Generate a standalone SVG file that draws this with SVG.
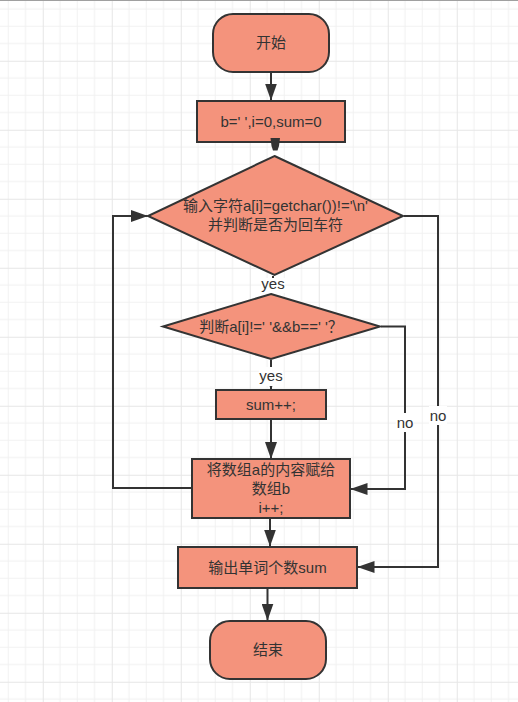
<svg xmlns="http://www.w3.org/2000/svg" width="518" height="702" viewBox="0 0 518 702">
<defs>
<pattern id="grid" patternUnits="userSpaceOnUse" x="42.75" y="60.75" width="69" height="69">
<rect width="69" height="69" fill="#ffffff"/>
<path d="M17.25,0V69M34.5,0V69M51.75,0V69M0,17.25H69M0,34.5H69M0,51.75H69" stroke="#f1f1f1" stroke-width="1" fill="none"/>
<path d="M0.5,0V69M0,0.5H69" stroke="#e6e6e6" stroke-width="1" fill="none"/>
</pattern>
<marker id="arr" viewBox="0 0 17 12" refX="16.5" refY="6" markerWidth="17" markerHeight="12" orient="auto" markerUnits="userSpaceOnUse">
<path d="M0,0 L17,6 L0,12 z" fill="#333333"/>
</marker>
</defs>
<style>
.shape{fill:#F4937C;stroke:#333333;stroke-width:2}
.conn{fill:none;stroke:#333333;stroke-width:2}
.t{font-family:"Liberation Sans","Noto Sans CJK SC",sans-serif;font-size:15px;fill:#333333;text-anchor:middle}
.lbg{fill:#ffffff}
</style>
<rect x="0" y="0" width="518" height="702" fill="url(#grid)"/>
<line x1="0" y1="0.5" x2="518" y2="0.5" stroke="#a0a0a0" stroke-width="1"/>

<g id="start">
<rect class="shape" x="213" y="14" width="116" height="58" rx="20" ry="20"/>
<text class="t" x="271" y="48">开始</text>
</g>
<g id="init">
<rect class="shape" x="197" y="101" width="148" height="41"/>
<text class="t" x="271" y="126.5">b=' ',i=0,sum=0</text>
</g>
<g id="input">
<polygon class="shape" points="274.5,156 403,216 274.5,275 148,216"/>
<text class="t" x="275.5" y="211">输入字符a[i]=getchar())!='\n'</text>
<text class="t" x="275.5" y="229.5">并判断是否为回车符</text>
</g>
<g id="check">
<polygon class="shape" points="271,294 380,326.5 271,359 163,326.5"/>
<text class="t" x="271" y="331.5">判断a[i]!=' '&amp;&amp;b==' '？</text>
</g>
<g id="count">
<rect class="shape" x="216" y="390" width="110" height="29"/>
<text class="t" x="271" y="409.5">sum++;</text>
</g>
<g id="copy">
<rect class="shape" x="192" y="459" width="158" height="59"/>
<text class="t" x="271" y="475">将数组a的内容赋给</text>
<text class="t" x="271" y="494">数组b</text>
<text class="t" x="271" y="513">i++;</text>
</g>
<g id="output">
<rect class="shape" x="178" y="547" width="179" height="41"/>
<text class="t" x="267.5" y="573">输出单词个数sum</text>
</g>
<g id="end">
<rect class="shape" x="210" y="621" width="116" height="58" rx="20" ry="20"/>
<text class="t" x="268" y="654.5">结束</text>
</g>

<g id="connectors">
<path class="conn" d="M271,73 L271,100" marker-end="url(#arr)"/>
<polygon points="270.5,138 280,138 279,146 277.5,150.5 273,150.5 271.5,146" fill="#333333"/>
<path class="conn" d="M273,276 L273,293"/>
<path class="conn" d="M271,360 L271,389.5" marker-end="url(#arr)"/>
<path class="conn" d="M271,420 L271,458.5" marker-end="url(#arr)"/>
<path class="conn" d="M270,519 L270,546" marker-end="url(#arr)"/>
<path class="conn" d="M267.5,589 L267.5,620" marker-end="url(#arr)"/>
<path class="conn" d="M191,488 L113,488 L113,216 L147.5,216" marker-end="url(#arr)"/>
<path class="conn" d="M381,326.5 L405,326.5 L405,489 L351,489" marker-end="url(#arr)"/>
<path class="conn" d="M404,216 L438,216 L438,567 L358,567" marker-end="url(#arr)"/>
<g id="labels">
<rect class="lbg" x="261" y="278" width="24" height="15"/>
<text class="t" x="273" y="289">yes</text>
<rect class="lbg" x="259" y="367" width="24" height="19"/>
<text class="t" x="271" y="381">yes</text>
<rect class="lbg" x="396" y="413" width="18" height="19"/>
<text class="t" x="405" y="428">no</text>
<rect class="lbg" x="429" y="406" width="18" height="19"/>
<text class="t" x="438" y="420.5">no</text>
</g>
</g>
</svg>
